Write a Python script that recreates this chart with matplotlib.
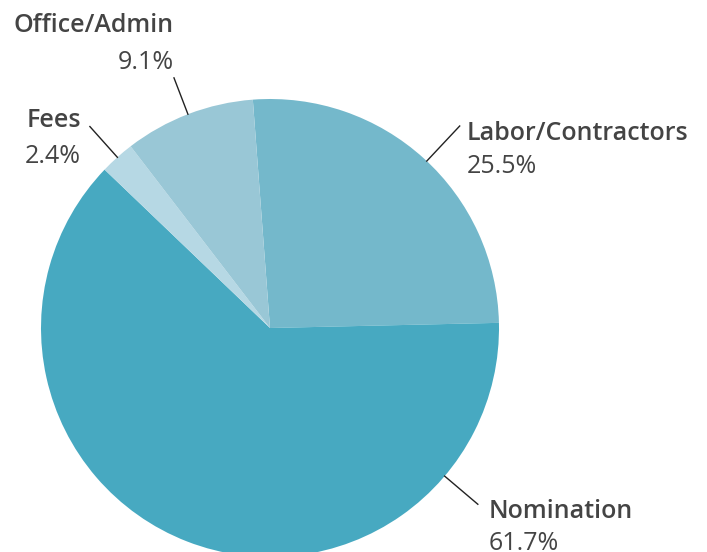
import numpy as np
import matplotlib.pyplot as plt

# --- data ---
labels = ['Labor/Contractors', 'Nomination', 'Fees', 'Office/Admin']
shares = [25.5, 61.7, 2.4, 9.1]
pct_text = ['25.5%', '61.7%', '2.4%', '9.1%']
colors = ['#74b8cb', '#47a9c1', '#b6d8e4', '#99c7d6']

TXT = '#444444'
fig = plt.figure(figsize=(7.07, 5.52), dpi=100)
ax = fig.add_axes([0, 0, 1, 1])

wedges, _ = ax.pie(shares, colors=colors, startangle=94.3, counterclock=False,
                   wedgeprops=dict(linewidth=0))

# pie centre at (270, 328) px, radius 229 px
ax.set_xlim(-270 / 229, (707 - 270) / 229)
ax.set_ylim((328 - 552) / 229, 328 / 229)
ax.set_aspect('auto')
ax.axis('off')

# leader line angle (deg) and outer radius for each label
angles = [46.8, -40.3, 131.8, 111.0]
radii = [1.21, 1.19, 1.18, 1.17]

# text offsets from the end of each leader line, in pixels: (dx, name dy, pct dy), ha
offsets = [(7, -14, -47, 'left'),
           (11, -14, -46, 'left'),
           (-9, 0, -36, 'right'),
           (0, 46, 9, 'right')]

for lab, pct, ang, r, (dx, dy1, dy2, ha) in zip(labels, pct_text, angles, radii, offsets):
    a = np.deg2rad(ang)
    x0, y0 = np.cos(a), np.sin(a)
    x1, y1 = r * x0, r * y0
    ax.plot([x0, x1], [y0, y1], color='#222222', lw=1)
    ax.annotate(lab, (x1, y1), xytext=(dx, dy1), textcoords='offset pixels',
                ha=ha, va='baseline', fontsize=18, fontweight='semibold',
                family='Open Sans', color=TXT)
    ax.annotate(pct, (x1, y1), xytext=(dx, dy2), textcoords='offset pixels',
                ha=ha, va='baseline', fontsize=18, family='Open Sans', color=TXT)

fig.savefig('out.png', dpi=100)
